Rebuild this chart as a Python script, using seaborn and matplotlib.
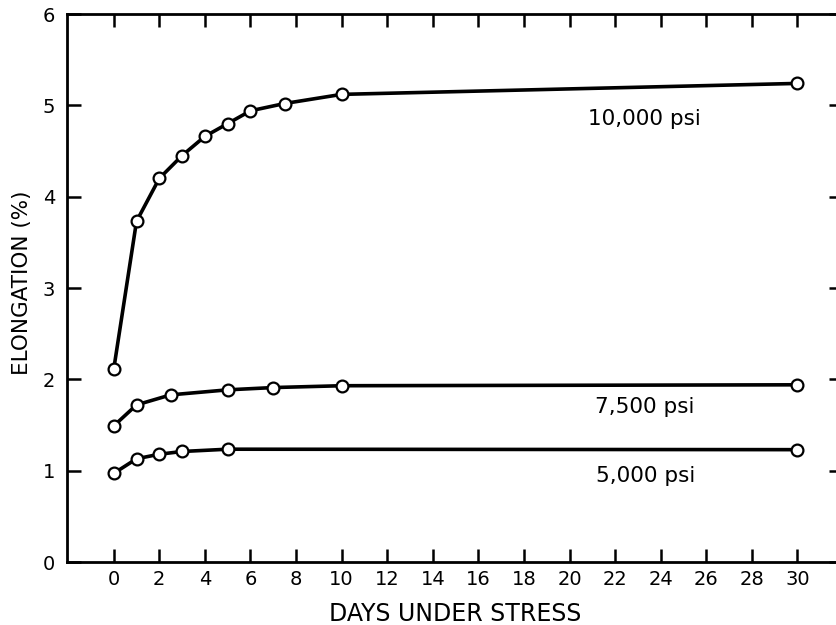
import matplotlib
matplotlib.use("Agg")
import matplotlib.pyplot as plt
import seaborn as sns
import pandas as pd

# ---- data ----
days_10000 = [0, 1, 2, 3, 4, 5, 6, 7.5, 10, 30]
elong_10000 = [2.11, 3.73, 4.20, 4.45, 4.66, 4.80, 4.94, 5.02, 5.12, 5.24]

days_7500 = [0, 1, 2.5, 5, 7, 10, 30]
elong_7500 = [1.49, 1.72, 1.83, 1.885, 1.91, 1.93, 1.94]

days_5000 = [0, 1, 2, 3, 5, 30]
elong_5000 = [0.97, 1.13, 1.18, 1.21, 1.235, 1.23]

series_labels = ["10,000 psi", "7,500 psi", "5,000 psi"]
label_pos = [(20.8, 4.85), (21.1, 1.70), (21.15, 0.94)]

x_ticks = list(range(0, 31, 2))
y_ticks = [0, 1, 2, 3, 4, 5, 6]
x_label = "DAYS UNDER STRESS"
y_label = "ELONGATION (%)"

sns.set_style("white")
plt.rcParams["font.family"] = ["DejaVu Sans"]

W, H = 837, 625
fig = plt.figure(figsize=(W / 100, H / 100), dpi=100)
left_px, right_px, top_px, bottom_px = 67, 843, 14, 562
ax = fig.add_axes([left_px / W, (H - bottom_px) / H,
                   (right_px - left_px) / W, (bottom_px - top_px) / H])

frames = [
    pd.DataFrame({"days": days_10000, "elong": elong_10000}),
    pd.DataFrame({"days": days_7500, "elong": elong_7500}),
    pd.DataFrame({"days": days_5000, "elong": elong_5000}),
]
for df in frames:
    sns.lineplot(data=df, x="days", y="elong", ax=ax, color="black",
                 linewidth=2.6, marker="o", markersize=8.5,
                 markerfacecolor="white", markeredgecolor="black",
                 markeredgewidth=1.6, estimator=None, sort=True,
                 clip_on=False, zorder=3)

for text, (tx, ty) in zip(series_labels, label_pos):
    ax.text(tx, ty, text, fontsize=15.5, ha="left", va="center", color="black")

ax.set_xlim(-2.05, 32)
ax.set_ylim(0, 6)
ax.set_xticks(x_ticks)
ax.set_xticklabels([str(v) for v in x_ticks])
ax.set_yticks(y_ticks)
ax.set_yticklabels([str(v) for v in y_ticks])

for sp in ["left", "bottom", "top", "right"]:
    ax.spines[sp].set_visible(True)
    ax.spines[sp].set_color("black")
    ax.spines[sp].set_linewidth(2.0)

ax.tick_params(axis="x", which="major", direction="in", length=9.5, width=1.8,
               top=True, bottom=True, labelsize=14, pad=5.5, colors="black")
ax.tick_params(axis="y", which="major", direction="in", length=10, width=1.8,
               left=True, right=True, labelsize=14, pad=8.5, colors="black")

ax.set_xlabel(x_label, fontsize=17, color="black")
ax.set_ylabel(y_label, fontsize=15.5, color="black")
ax.xaxis.set_label_coords(0.5, -0.1085)
ax.xaxis.label.set_va("baseline")
ax.yaxis.set_label_coords(-0.058, 0.509)
ax.yaxis.label.set_va("center")

ax.set_facecolor("white")
fig.patch.set_facecolor("white")
fig.savefig("out.png", dpi=100, facecolor="white")
